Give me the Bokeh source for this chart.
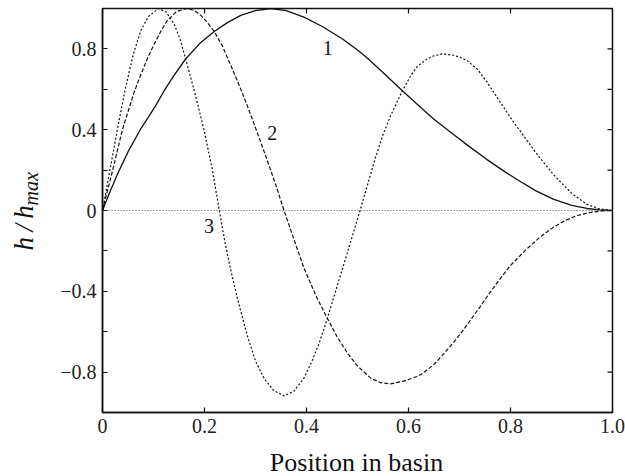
import math

from bokeh.core.properties import value
from bokeh.embed import file_html
from bokeh.models import FixedTicker, Label, Range1d, Span
from bokeh.plotting import figure
from bokeh.resources import INLINE

# Normalised surface elevation h/h_max along the basin for the first three modes
mode1_x = [0.000, 0.015, 0.033, 0.050, 0.074, 0.090, 0.104, 0.121, 0.140, 0.163,
           0.190, 0.219, 0.245, 0.271, 0.300, 0.330, 0.360, 0.395, 0.430, 0.470,
           0.500, 0.519, 0.550, 0.588, 0.624, 0.650, 0.689, 0.720, 0.754, 0.790,
           0.820, 0.850, 0.885, 0.920, 0.950, 0.975, 1.000]
mode1_y = [0.000, 0.095, 0.200, 0.290, 0.400, 0.462, 0.518, 0.593, 0.668, 0.750,
           0.825, 0.886, 0.930, 0.966, 0.990, 1.000, 0.990, 0.957, 0.912, 0.850,
           0.795, 0.755, 0.683, 0.593, 0.510, 0.452, 0.375, 0.315, 0.252, 0.190,
           0.142, 0.097, 0.055, 0.025, 0.010, 0.003, 0.000]

mode2_x = [0.000, 0.010, 0.020, 0.039, 0.062, 0.075, 0.088, 0.101, 0.115, 0.127,
           0.145, 0.165, 0.180, 0.193, 0.205, 0.219, 0.235, 0.251, 0.268, 0.284,
           0.300, 0.320, 0.340, 0.356, 0.375, 0.395, 0.420, 0.441, 0.460, 0.480,
           0.500, 0.526, 0.545, 0.565, 0.590, 0.617, 0.630, 0.650, 0.669, 0.690,
           0.705, 0.720, 0.740, 0.760, 0.780, 0.800, 0.830, 0.855, 0.880, 0.905,
           0.930, 0.955, 0.980, 1.000]
mode2_y = [0.000, 0.100, 0.200, 0.400, 0.585, 0.672, 0.752, 0.822, 0.890, 0.940,
           0.985, 1.000, 0.990, 0.966, 0.932, 0.886, 0.815, 0.722, 0.620, 0.518,
           0.410, 0.270, 0.125, 0.000, -0.140, -0.285, -0.430, -0.534, -0.625, -0.705,
           -0.770, -0.830, -0.852, -0.858, -0.845, -0.822, -0.802, -0.762, -0.710, -0.648,
           -0.600, -0.548, -0.478, -0.405, -0.337, -0.272, -0.195, -0.138, -0.090, -0.052,
           -0.025, -0.010, -0.002, 0.000]

mode3_x = [0.000, 0.008, 0.015, 0.029, 0.044, 0.060, 0.075, 0.090, 0.110, 0.125,
           0.140, 0.152, 0.163, 0.180, 0.199, 0.2155, 0.229, 0.240, 0.251, 0.265,
           0.284, 0.300, 0.317, 0.335, 0.356, 0.375, 0.395, 0.410, 0.425, 0.441,
           0.460, 0.480, 0.505, 0.520, 0.535, 0.550, 0.565, 0.588, 0.605, 0.617,
           0.635, 0.650, 0.666, 0.685, 0.700, 0.715, 0.735, 0.754, 0.775, 0.800,
           0.820, 0.850, 0.885, 0.920, 0.950, 0.975, 1.000]
mode3_y = [0.000, 0.110, 0.205, 0.400, 0.593, 0.770, 0.890, 0.960, 1.000, 0.982,
           0.925, 0.850, 0.750, 0.593, 0.400, 0.200, 0.000, -0.155, -0.290, -0.440,
           -0.620, -0.745, -0.832, -0.890, -0.918, -0.895, -0.830, -0.750, -0.655, -0.534,
           -0.375, -0.210, 0.000, 0.130, 0.260, 0.375, 0.470, 0.593, 0.670, 0.712,
           0.748, 0.766, 0.775, 0.770, 0.760, 0.742, 0.700, 0.635, 0.555, 0.460,
           0.390, 0.285, 0.175, 0.085, 0.030, 0.008, 0.000]

mode_names = ["1", "2", "3"]
mode_label_x = [0.4415, 0.333, 0.209]
mode_label_y = [0.802, 0.385, -0.078]

x_ticks = [0.0, 0.2, 0.4, 0.6, 0.8, 1.0]
x_tick_labels = ["0", "0.2", "0.4", "0.6", "0.8", "1.0"]
y_ticks = [-0.8, -0.4, 0.0, 0.4, 0.8]
y_tick_labels = ["\u22120.8", "\u22120.4", "0", "0.4", "0.8"]
y_minor_ticks = [-0.6, -0.2, 0.2, 0.6]

SERIF = "'Liberation Serif', serif"
INK = "#111111"
X0, X1, Y0, Y1 = 0, 1, -1, 1

p = figure(width=625, height=476,
           x_range=Range1d(X0, X1), y_range=Range1d(Y0, Y1),
           output_backend="svg", toolbar_location=None,
           min_border_left=102, min_border_right=13,
           min_border_top=8, min_border_bottom=64)
p.grid.visible = False
p.outline_line_color = INK
p.outline_line_width = 1.5
p.outline_line_alpha = 1.0
p.background_fill_color = "white"
p.border_fill_color = "white"


def style_axis(ax):
    ax.axis_line_color = INK
    ax.axis_line_width = 1.5
    ax.major_tick_line_color = INK
    ax.minor_tick_line_color = INK
    ax.major_tick_line_width = 1.2
    ax.minor_tick_line_width = 1.2
    ax.major_tick_in = 5
    ax.major_tick_out = 0
    ax.minor_tick_in = 5
    ax.minor_tick_out = 0
    ax.major_label_text_font = SERIF
    ax.major_label_text_font_size = "20px"
    ax.major_label_text_color = "#222222"
    ax.major_label_standoff = 6


# bottom axis
xax = p.xaxis[0]
xax.ticker = FixedTicker(ticks=x_ticks, minor_ticks=[])
xax.major_label_overrides = dict(zip(x_ticks, x_tick_labels))
style_axis(xax)

# left axis
yax = p.yaxis[0]
yax.ticker = FixedTicker(ticks=y_ticks, minor_ticks=y_minor_ticks)
yax.major_label_overrides = dict(zip(y_ticks, y_tick_labels))
style_axis(yax)

# inward ticks mirrored on the top and right edges of the frame
p.ray(x=x_ticks, y=[Y1] * len(x_ticks), length=5, length_units="screen",
      angle=-math.pi / 2, line_color=INK, line_width=1.2)
right_ticks = y_ticks + y_minor_ticks
p.ray(x=[X1] * len(right_ticks), y=right_ticks, length=5, length_units="screen",
      angle=math.pi, line_color=INK, line_width=1.2)

# still-water level
p.add_layout(Span(location=0, dimension="width", line_color="#333333",
                  line_width=0.9, line_dash="1 2"))

p.line(mode1_x, mode1_y, line_color=INK, line_width=1.3)
p.line(mode2_x, mode2_y, line_color=INK, line_width=1.2, line_dash="4 2")
p.line(mode3_x, mode3_y, line_color=INK, line_width=1.2, line_dash="2 2")

p.text(x=mode_label_x, y=mode_label_y, text=mode_names,
       text_font=value(SERIF), text_font_size="20px", text_color=INK,
       text_align="center", text_baseline="middle")

# axis titles, placed in the side panels so they are not clipped by the frame
p.add_layout(Label(x=0.498, y=-1.2485, text="Position in basin",
                   text_font=SERIF, text_font_size="26px", text_color=INK,
                   text_align="center", text_baseline="middle"), "below")
p.add_layout(Label(x=-0.153, y=-0.198,
                   text="h\u2009/\u2009h", angle=math.pi / 2, text_font=SERIF,
                   text_font_size="27px", text_font_style="italic",
                   text_color=INK, text_align="left", text_baseline="middle"), "left")
p.add_layout(Label(x=-0.1396, y=0.025,
                   text="max", angle=math.pi / 2, text_font=SERIF,
                   text_font_size="20px", text_font_style="italic",
                   text_color=INK, text_align="left", text_baseline="middle"), "left")

open("out.html", "w").write(file_html(p, INLINE))
